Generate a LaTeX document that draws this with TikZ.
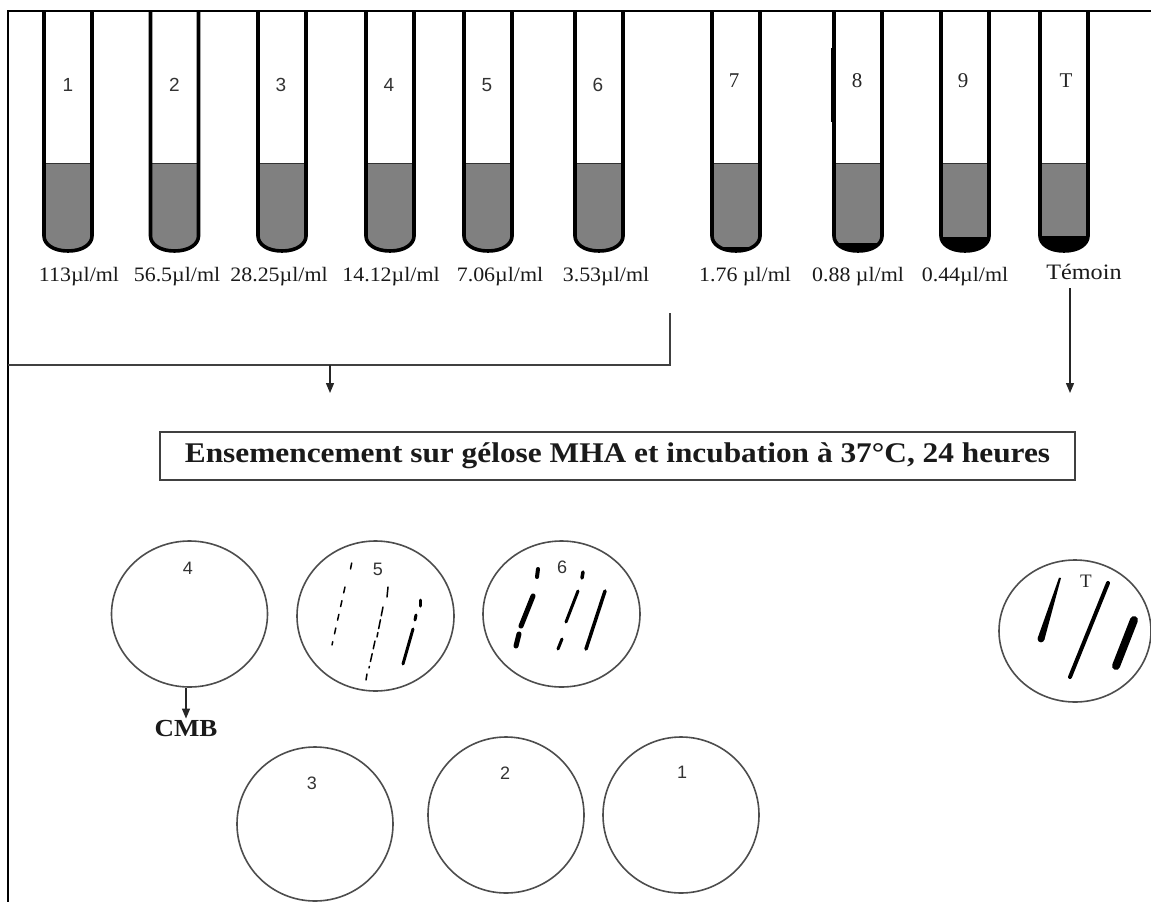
\documentclass[tikz,border=0pt]{standalone}
\usepackage{fontspec}
\setmainfont{Liberation Serif}
\newfontfamily\platefont{Liberation Sans}
\usetikzlibrary{arrows.meta,shapes.geometric}
% slightly widened lettering
\newcommand\widen[2]{\scalebox{#1}[1]{#2}}

\definecolor{liquid}{HTML}{808080}
\definecolor{ink}{HTML}{1A1A1A}
\definecolor{rim}{HTML}{4D4D4D}

\begin{document}
\begin{tikzpicture}[x=1pt,y=-1pt,
  wall/.style={line width=3.6pt,black,line cap=round,line join=round},
  frame/.style={line width=2.4pt,black},
  link/.style={line width=1.8pt,black!75},
  arrow/.style={line width=1.3pt,black!85,-{Triangle[length=10pt,width=8pt]}},
  tubenum/.style={font=\platefont\fontsize{19}{22}\selectfont,text=black!80,inner sep=0pt},
  tubenumserif/.style={font=\fontsize{21}{24}\selectfont,text=black!85,inner sep=0pt},
  conc/.style={font=\fontsize{20.5}{24}\selectfont,text=ink,inner sep=0pt,anchor=base},
  plate/.style={draw=rim,line width=1.6pt,ellipse,inner sep=0pt},
  platenum/.style={font=\platefont\fontsize{18}{21}\selectfont,text=black!80,inner sep=0pt},
  streak/.style={black,line cap=round},
  titlebox/.style={draw=black!75,line width=2pt,minimum width=915pt,minimum height=48pt,inner sep=0pt,
    font=\fontsize{28.5}{32}\selectfont\bfseries,text=ink}
]
\useasboundingbox (0,0) rectangle (1151,902);
\fill[white] (0,0) rectangle (1151,902);

% ---------- dilution tubes ----------
\foreach \cx/\sed in {68/999, 174.5/999, 282/999, 390/999, 488/999, 599/999,
                      736/247, 858/243, 965/237, 1064/236}{
  \begin{scope}
    \clip (\cx-24,12) -- (\cx-24,236) .. controls (\cx-24,244) and (\cx-15,251) .. (\cx,251)
          .. controls (\cx+15,251) and (\cx+24,244) .. (\cx+24,236) -- (\cx+24,12) -- cycle;
    \fill[liquid] (\cx-30,163) rectangle (\cx+30,260);
    \fill[black] (\cx-30,\sed) rectangle (\cx+30,260);
    \draw[black!80,line width=1pt] (\cx-30,163) -- (\cx+30,163);
  \end{scope}
  \draw[wall] (\cx-24,12) -- (\cx-24,236) .. controls (\cx-24,244) and (\cx-15,251) .. (\cx,251)
          .. controls (\cx+15,251) and (\cx+24,244) .. (\cx+24,236) -- (\cx+24,12);
}
% darker streak on the wall of tube 8
\draw[black,line width=2.6pt] (832.5,48) -- (832.5,122);

% tube numbers
\node[tubenum] (n1) at (68,85) {1};
\node[tubenum] (n2) at (174.5,85) {2};
\node[tubenum] (n3) at (281,85) {3};
\node[tubenum] (n4) at (389,85) {4};
\node[tubenum] (n5) at (487,85) {5};
\node[tubenum] (n6) at (598,85) {6};
\node[tubenumserif] (n7) at (734,81) {7};
\node[tubenumserif] (n8) at (857,81) {8};
\node[tubenumserif] (n9) at (963,81) {9};
\node[tubenumserif] (nT) at (1066,81) {T};

% concentrations
\node[conc] (c1) at (79,281) {\widen{1.07}{113µl/ml}};
\node[conc] (c2) at (177,281) {\widen{1.07}{56.5µl/ml}};
\node[conc] (c3) at (279,281) {\widen{1.07}{28.25µl/ml}};
\node[conc] (c4) at (391,281) {\widen{1.07}{14.12µl/ml}};
\node[conc] (c5) at (500,281) {\widen{1.07}{7.06µl/ml}};
\node[conc] (c6) at (606,281) {\widen{1.07}{3.53µl/ml}};
\node[conc] (c7) at (745,281) {\widen{1.07}{1.76 µl/ml}};
\node[conc] (c8) at (858,281) {\widen{1.07}{0.88 µl/ml}};
\node[conc] (c9) at (965,281) {\widen{1.07}{0.44µl/ml}};
\node[conc,font=\fontsize{22}{26}\selectfont] (cT) at (1084,279) {\widen{1.1}{Témoin}};

% ---------- frame ----------
\draw[frame] (8,902) -- (8,11) -- (1151,11);

% ---------- bracket and arrows ----------
\coordinate (bTop) at (670,313);
\coordinate (bCorner) at (670,365);
\coordinate (bLeft) at (8,365);
\coordinate (bDrop) at (330,365);
\coordinate (bEnd) at (330,393);
\draw[link] (bTop) -- (bCorner) -- (bLeft);
\draw[arrow] (bDrop) -- (bEnd);

\coordinate (tStart) at (1070,288);
\coordinate (tEnd) at (1070,393);
\draw[arrow] (tStart) -- (tEnd);

% ---------- title box ----------
\node[titlebox] (box) at (617.5,455.5)
  {\widen{1.1}{Ensemencement sur gélose MHA et incubation à 37°C, 24 heures}};

% ---------- Petri plates ----------
\node[plate,minimum width=156pt,minimum height=146pt] (p4) at (189.5,614) {};
\node[plate,minimum width=157pt,minimum height=150pt] (p5) at (375.5,616) {};
\node[plate,minimum width=157pt,minimum height=146pt] (p6) at (561.5,614) {};
\node[plate,minimum width=152pt,minimum height=142pt] (pT) at (1075,631) {};
\node[plate,minimum width=156pt,minimum height=154pt] (p3) at (315,824) {};
\node[plate,minimum width=156pt,minimum height=156pt] (p2) at (506,815) {};
\node[plate,minimum width=156pt,minimum height=156pt] (p1) at (681,815) {};

\node[platenum] (l4) at (188,568) {4};
\node[platenum] (l5) at (378,569) {5};
\node[platenum] (l6) at (562,567) {6};
\node[tubenumserif,font=\fontsize{19}{22}\selectfont] (lT) at (1086,581) {T};
\node[platenum] (l3) at (312,783) {3};
\node[platenum] (l2) at (505,773) {2};
\node[platenum] (l1) at (682,772) {1};

% CMB
\node[font=\fontsize{24.5}{28}\selectfont\bfseries,text=ink,inner sep=1pt] (cmb) at (186,728) {\widen{1.1}{CMB}};
\draw[arrow] (cmb.north |- p4.south) -- (cmb.north);

% streaks on plate 5 (sparse growth)
\draw[streak,line width=1.5pt] (351.7,563) -- (350.5,569);
\draw[streak,line width=1.5pt,dash pattern=on 6pt off 8pt] (345,587) -- (332,645);
\draw[streak,line width=1.5pt] (388,587) -- (387,597);
\draw[streak,line width=1.5pt,dash pattern=on 9pt off 4pt] (383,607) -- (377,637);
\draw[streak,line width=1.5pt,dash pattern=on 8pt off 5pt] (375,641) -- (369,668);
\draw[streak,line width=1.5pt] (367,674) -- (366,680);
\draw[streak,line width=3pt] (420,600) -- (420,606);
\draw[streak,line width=3pt] (416,615) -- (415,620);
\draw[streak,line width=3pt] (413,629) -- (403,664);

% streaks on plate 6
\draw[streak,line width=4pt] (538,569) -- (537,577);
\draw[streak,line width=5pt] (533,596) -- (521,626);
\draw[streak,line width=5pt] (519,634) -- (516,646);
\draw[streak,line width=3.5pt] (583,572) -- (582,578);
\draw[streak,line width=3pt] (578,591) -- (566,622);
\draw[streak,line width=3pt] (562,639) -- (558,649);
\draw[streak,line width=3.5pt] (605,591) -- (586,649);

% streaks on the control plate
\fill[black] (1061,578) -- (1044.3,640) -- (1037.7,638) -- (1059,577.7) -- cycle;
\fill[black] (1041,639) circle (3.4);
\draw[streak,line width=4pt] (1108,583) -- (1070,677);
\draw[streak,line width=8pt] (1134,620) -- (1116,666);

\end{tikzpicture}
\end{document}
